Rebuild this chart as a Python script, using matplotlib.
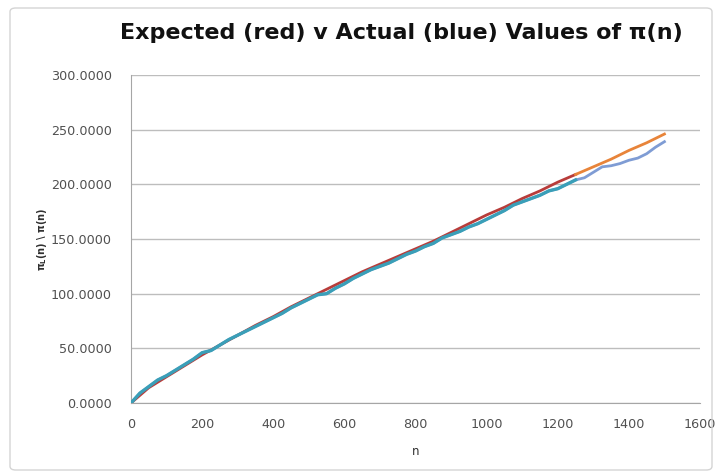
import matplotlib
matplotlib.use("Agg")
import matplotlib.pyplot as plt
from matplotlib.patches import FancyBboxPatch

# ── data ────────────────────────────────────────────────────────
n_actual = [0, 25, 50, 75, 100, 125, 150, 175, 200, 225, 250, 275, 300, 325, 350,
            375, 400, 425, 450, 475, 500, 525, 550, 575, 600, 625, 650, 675, 700,
            725, 750, 775, 800, 825, 850, 875, 900, 925, 950, 975, 1000, 1025, 1050,
            1075, 1100, 1125, 1150, 1175, 1200, 1225, 1250, 1275, 1300, 1325, 1350,
            1375, 1400, 1425, 1450, 1475, 1500]
actual = [0, 9, 15, 21, 25, 30, 35, 40, 46, 48, 53, 58, 62, 66, 70,
          74, 78, 82, 87, 91, 95, 99, 100, 105, 109, 114, 118, 122, 125,
          128, 132, 136, 139, 143, 146, 151, 154, 157, 161, 164, 168, 172, 176,
          181, 184, 187, 190, 194, 196, 200, 204, 206, 211, 216, 217,
          219, 222, 224, 228, 234, 239]

n_expected = [0, 50, 100, 150, 200, 250, 300, 350, 400, 450, 500, 550, 600, 650,
              700, 750, 800, 850, 900, 950, 1000, 1050, 1100, 1150, 1200, 1250,
              1300, 1350, 1400, 1450, 1500]
expected = [0, 14, 24, 34, 44, 53, 62, 71, 79, 88, 96, 104, 112, 120,
            127, 134, 141, 148, 156, 164, 172, 179, 187, 194, 202, 209,
            216, 223, 231, 238, 246]

split_n = 1250  # red/teal stop here, orange/blue carry on
y_ticks = [0, 50, 100, 150, 200, 250, 300]
x_ticks = [0, 200, 400, 600, 800, 1000, 1200, 1400, 1600]

red_n = [n for n in n_expected if n <= split_n]
red_v = expected[:len(red_n)]
orange_n = [n for n in n_expected if n >= split_n]
orange_v = expected[len(n_expected) - len(orange_n):]
teal_n = [n for n in n_actual if n <= split_n]
teal_v = actual[:len(teal_n)]

# ── figure ──────────────────────────────────────────────────────
fig = plt.figure(figsize=(7.18, 4.75), dpi=100)
fig.patch.set_facecolor("white")
border = FancyBboxPatch((10 / 718, 5 / 475), 702 / 718, 462 / 475,
                        boxstyle="round,pad=0,rounding_size=0.008",
                        transform=fig.transFigure, fill=False,
                        edgecolor="#d4d4d4", linewidth=1.0)
fig.patches.append(border)

ax = fig.add_axes([131 / 718, 1 - 403 / 475, 569 / 718, 328 / 475])

ax.plot(n_actual, actual, color="#7f9cd4", lw=2, zorder=3)
ax.plot(red_n, red_v, color="#b83c3a", lw=2, zorder=4)
ax.plot(teal_n, teal_v, color="#3a9fb8", lw=2.4, zorder=5)
ax.plot(orange_n, orange_v, color="#e8843a", lw=2, zorder=6)

ax.set_xlim(0, 1600)
ax.set_ylim(0, 300)
ax.set_xticks(x_ticks)
ax.set_yticks(y_ticks)
ax.set_yticklabels([f"{v:.4f}" for v in y_ticks])
ax.tick_params(axis="both", length=0, labelsize=9.2, colors="#505050")
ax.tick_params(axis="x", pad=11)
ax.tick_params(axis="y", pad=14)
ax.grid(axis="y", color="#bdbdbd", lw=1)
ax.set_axisbelow(True)
for side in ["top", "right"]:
    ax.spines[side].set_visible(False)
for side in ["left", "bottom"]:
    ax.spines[side].set_color("#a6a6a6")

ax.set_xlabel("n", fontsize=8.5, color="#303030", labelpad=10)
ax.set_ylabel(r"$\mathbf{\pi_L}$(n) \ $\mathbf{\pi}$(n)", fontsize=7,
              fontweight="bold", color="#303030", labelpad=1)

fig.text(401 / 718, 1 - 33 / 475, "Expected (red) v Actual (blue) Values of π(n)",
         ha="center", va="center", fontsize=16, fontweight="bold", color="#111111")

fig.savefig("out.png", dpi=100)
